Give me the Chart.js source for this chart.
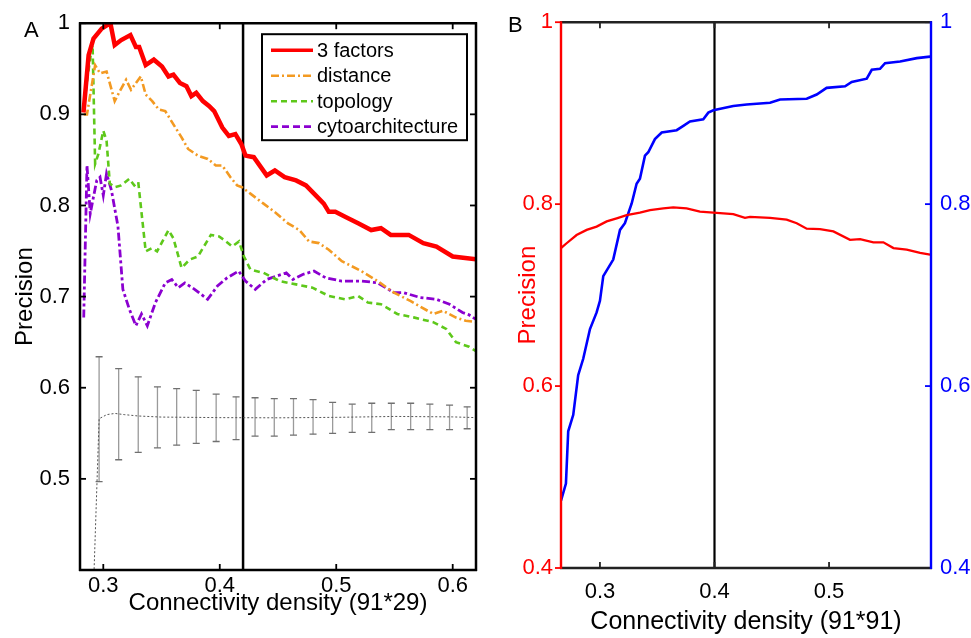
<!DOCTYPE html>
<html>
<head>
<meta charset="utf-8">
<title>Precision vs connectivity density</title>
<script src="https://cdn.jsdelivr.net/npm/chart.js@4.4.1/dist/chart.umd.min.js"></script>
<style>
  html, body { margin: 0; padding: 0; background: #fff; }
  #wrap { position: relative; width: 971px; height: 638px; overflow: hidden; }
  #chartA { position: absolute; left: 0; top: 0; }
  #chartB { position: absolute; left: 500px; top: 0; }
  .panel-tag {
    position: absolute;
    font-family: 'Liberation Sans', Arial, Helvetica, sans-serif;
    font-size: 22px;
    line-height: 1;
    color: #000;
  }
</style>
</head>
<body>
<div id="wrap">
  <canvas id="chartA" width="500" height="638"></canvas>
  <canvas id="chartB" width="471" height="638"></canvas>
  <div class="panel-tag" style="left:24px; top:19px;">A</div>
  <div class="panel-tag" style="left:508px; top:14px;">B</div>
</div>

<script>
const FONT = "'Liberation Sans', Arial, Helvetica, sans-serif";

// ---- Panel A: precision vs connectivity density (91*29) ----
const factorsX = [0.283, 0.2874, 0.2916, 0.2986, 0.3061, 0.3098, 0.3154, 0.3233, 0.328, 0.3308, 0.3364, 0.3434,
  0.3504, 0.356, 0.3602, 0.3658, 0.3714, 0.3756, 0.3798, 0.3855, 0.391, 0.3952, 0.4022, 0.4078, 0.4134, 0.4185,
  0.4221, 0.4292, 0.4403, 0.4473, 0.4557, 0.4655, 0.474, 0.4824, 0.4893, 0.4936, 0.4992, 0.5076, 0.5188, 0.53,
  0.5384, 0.5468, 0.5622, 0.5748, 0.586, 0.6, 0.62];
const factorsY = [0.902, 0.965, 0.983, 0.994, 1.0, 0.976, 0.9815, 0.987, 0.974, 0.974, 0.954, 0.96,
  0.9525, 0.9416, 0.9435, 0.9344, 0.9308, 0.92, 0.9236, 0.9145, 0.909, 0.9036, 0.8855, 0.8764, 0.8783, 0.8674,
  0.8547, 0.853, 0.833, 0.8384, 0.831, 0.8275, 0.822, 0.811, 0.802, 0.793, 0.793, 0.7877, 0.7804, 0.773,
  0.775, 0.7677, 0.7677, 0.7587, 0.755, 0.744, 0.741];

const distanceX = [0.2832, 0.286, 0.293, 0.2972, 0.3028, 0.3098, 0.314, 0.3196, 0.3238, 0.3322, 0.3364, 0.342,
  0.3476, 0.3532, 0.3602, 0.3672, 0.3728, 0.3812, 0.3897, 0.3966, 0.4022, 0.4092, 0.4149, 0.419, 0.4263, 0.4376,
  0.4487, 0.4586, 0.4683, 0.4767, 0.4851, 0.4936, 0.5048, 0.5216, 0.5355, 0.5496, 0.5636, 0.5832, 0.5916, 0.6028,
  0.6112, 0.62];
const distanceY = [0.9, 0.9, 0.954, 0.945, 0.947, 0.9145, 0.925, 0.938, 0.927, 0.9416, 0.9217, 0.9145,
  0.9054, 0.9036, 0.889, 0.8747, 0.862, 0.8547, 0.8511, 0.8438, 0.8438, 0.831, 0.822, 0.82, 0.813, 0.802,
  0.7913, 0.7804, 0.773, 0.7605, 0.7587, 0.7515, 0.7388, 0.728, 0.717, 0.7043, 0.6953, 0.681, 0.6845, 0.677,
  0.6735, 0.672];

const topologyX = [0.2832, 0.286, 0.2897, 0.2908, 0.293, 0.2958, 0.3, 0.3028, 0.3056, 0.3098, 0.3154, 0.3224,
  0.3266, 0.33, 0.3364, 0.342, 0.3462, 0.356, 0.3602, 0.3672, 0.3742, 0.3812, 0.3924, 0.3994, 0.4036, 0.4106,
  0.4165, 0.4208, 0.4263, 0.4376, 0.4515, 0.4655, 0.4796, 0.4936, 0.5076, 0.5188, 0.5272, 0.5384, 0.5524, 0.5664,
  0.5832, 0.5944, 0.6028, 0.614, 0.62];
const topologyY = [0.9036, 0.936, 0.97, 0.976, 0.8457, 0.8565, 0.882, 0.871, 0.824, 0.82, 0.822, 0.8293,
  0.822, 0.8257, 0.7497, 0.7533, 0.7497, 0.773, 0.764, 0.7315, 0.7406, 0.744, 0.7677, 0.766, 0.7623, 0.755,
  0.7605, 0.744, 0.7297, 0.726, 0.717, 0.7134, 0.7098, 0.7007, 0.697, 0.7007, 0.6935, 0.6916, 0.681, 0.6772,
  0.672, 0.6645, 0.65, 0.645, 0.64];

const cytoX = [0.2832, 0.286, 0.2888, 0.2916, 0.2944, 0.2972, 0.3, 0.3028, 0.307, 0.3126, 0.3168, 0.3224,
  0.328, 0.3328, 0.3378, 0.3448, 0.3532, 0.3588, 0.3644, 0.37, 0.3784, 0.3896, 0.398, 0.4064, 0.4162, 0.4221,
  0.4305, 0.4403, 0.4487, 0.4571, 0.4628, 0.4712, 0.4809, 0.4908, 0.5048, 0.5216, 0.5355, 0.5496, 0.558, 0.572,
  0.586, 0.5972, 0.6084, 0.614, 0.62];
const cytoY = [0.677, 0.844, 0.791, 0.8095, 0.8275, 0.831, 0.811, 0.835, 0.8166, 0.777, 0.708, 0.686,
  0.668, 0.681, 0.668, 0.6935, 0.715, 0.7188, 0.7098, 0.715, 0.708, 0.697, 0.7116, 0.7207, 0.728, 0.717,
  0.708, 0.7188, 0.7225, 0.726, 0.7188, 0.7243, 0.728, 0.7207, 0.717, 0.717, 0.7152, 0.7043, 0.7043, 0.699,
  0.697, 0.6916, 0.6826, 0.68, 0.675];

// random-network baseline: mean (dotted) and error bars
const nullX = [0.2895, 0.2964, 0.303, 0.31, 0.318, 0.33, 0.35, 0.4, 0.45, 0.5, 0.55, 0.6, 0.62];
const nullMean = [0.30, 0.566, 0.5705, 0.5718, 0.5705, 0.569, 0.5678, 0.5672, 0.567, 0.5675, 0.5685, 0.568, 0.5672];
const errX = [0.2964, 0.3132, 0.33, 0.3465, 0.363, 0.3798, 0.3969, 0.414, 0.4303, 0.4468,
  0.4633, 0.4801, 0.4969, 0.5137, 0.5305, 0.5473, 0.5639, 0.5804, 0.5973, 0.6124];
const errHigh = [0.634, 0.621, 0.612, 0.601, 0.599, 0.597, 0.593, 0.590, 0.589, 0.588,
  0.588, 0.587, 0.584, 0.582, 0.583, 0.583, 0.583, 0.582, 0.581, 0.579];
const errLow = [0.497, 0.521, 0.529, 0.534, 0.537, 0.539, 0.541, 0.543, 0.547, 0.547,
  0.548, 0.549, 0.550, 0.551, 0.551, 0.554, 0.554, 0.554, 0.554, 0.555];

const cutA = 0.42;
const xTicksA = [0.3, 0.4, 0.5, 0.6];
const yTicksA = [0.5, 0.6, 0.7, 0.8, 0.9, 1];
const legendLabelsA = ['3 factors', 'distance', 'topology', 'cytoarchitecture'];

// ---- Panel B: connectivity density (91*91) ----
const redX = [0.266, 0.2709, 0.2796, 0.2884, 0.2971, 0.3059, 0.3146, 0.3233, 0.3349, 0.3437, 0.3553, 0.364,
  0.3757, 0.3873, 0.399, 0.4164, 0.4266, 0.431, 0.4485, 0.463, 0.4718, 0.4805, 0.4921, 0.5038, 0.5183, 0.5271,
  0.5387, 0.5474, 0.5562, 0.5678, 0.5795, 0.5882];
const redY = [0.7517, 0.757, 0.766, 0.7717, 0.7753, 0.781, 0.7844, 0.788, 0.7906, 0.7934, 0.7953, 0.7964,
  0.7953, 0.7917, 0.7906, 0.789, 0.785, 0.786, 0.785, 0.783, 0.779, 0.773, 0.7725, 0.770, 0.7608, 0.7615,
  0.758, 0.758, 0.7517, 0.75, 0.7463, 0.7444];

const blueX = [0.266, 0.2703, 0.2723, 0.2767, 0.281, 0.2854, 0.2913, 0.2971, 0.3, 0.3029, 0.3116, 0.3175,
  0.3218, 0.3277, 0.332, 0.3349, 0.3393, 0.3422, 0.348, 0.3539, 0.367, 0.3728, 0.3786, 0.3902, 0.3946, 0.399,
  0.4164, 0.4281, 0.4485, 0.4572, 0.4805, 0.4892, 0.4979, 0.514, 0.5198, 0.5329, 0.5373, 0.5445, 0.5489, 0.562,
  0.5766, 0.5882];
const blueY = [0.474, 0.4929, 0.5503, 0.5684, 0.612, 0.630, 0.6627, 0.681, 0.6937, 0.7209, 0.739, 0.7717,
  0.779, 0.8007, 0.8225, 0.828, 0.8533, 0.857, 0.8715, 0.8788, 0.8813, 0.886, 0.8908, 0.8933, 0.9006, 0.9031,
  0.9078, 0.9096, 0.9115, 0.915, 0.9158, 0.9205, 0.9278, 0.9296, 0.9343, 0.9379, 0.9477, 0.9488, 0.955, 0.9568,
  0.9605, 0.9622];

const cutB = 0.4;
const xTicksB = [0.3, 0.4, 0.5];
const yTicksB = [0.4, 0.6, 0.8, 1];

const pts = (xs, ys) => xs.map((x, i) => ({ x, y: ys[i] }));
const fmt = v => String(+Number(v).toFixed(1));
const setTicks = list => s => { s.ticks = list.map(v => ({ value: v })); };
const noGrid = { display: false, drawTicks: false };

// box frame + matlab-style tick marks
const framePlugin = {
  id: 'frame',
  afterDatasetsDraw(chart, args, opts) {
    const { ctx, chartArea: a, scales } = chart;
    const len = 6;
    ctx.save();
    ctx.lineCap = 'butt';
    const seg = (x1, y1, x2, y2) => { ctx.beginPath(); ctx.moveTo(x1, y1); ctx.lineTo(x2, y2); ctx.stroke(); };

    ctx.lineWidth = 1.8;
    ctx.strokeStyle = opts.xColor;
    scales.x.ticks.forEach(t => {
      const px = scales.x.getPixelForValue(t.value);
      seg(px, a.bottom, px, a.bottom - len);
      seg(px, a.top, px, a.top + len);
    });
    opts.sides.forEach(side => {
      const sc = scales[side.axis];
      ctx.strokeStyle = side.color;
      const x0 = side.pos === 'left' ? a.left : a.right;
      sc.ticks.forEach(t => {
        const py = sc.getPixelForValue(t.value);
        seg(x0, py, x0 + side.dir * len, py);
      });
    });

    ctx.lineWidth = opts.width;
    ctx.strokeStyle = opts.xColor;
    seg(a.left - 1, a.top, a.right + 1, a.top);
    seg(a.left - 1, a.bottom, a.right + 1, a.bottom);
    opts.sides.forEach(side => {
      const x0 = side.pos === 'left' ? a.left : a.right;
      ctx.strokeStyle = side.color;
      seg(x0, a.top - 1, x0, a.bottom + 1);
    });
    ctx.restore();
  }
};

const errorBarPlugin = {
  id: 'errorBars',
  beforeDatasetsDraw(chart) {
    const { ctx, scales: { x, y } } = chart;
    ctx.save();
    ctx.lineWidth = 1.3;
    errX.forEach((v, i) => {
      const px = x.getPixelForValue(v);
      const top = y.getPixelForValue(errHigh[i]);
      const bot = y.getPixelForValue(errLow[i]);
      ctx.strokeStyle = '#9a9a9a';
      ctx.beginPath(); ctx.moveTo(px, top); ctx.lineTo(px, bot); ctx.stroke();
      ctx.strokeStyle = '#707070';
      ctx.beginPath();
      ctx.moveTo(px - 3.5, top); ctx.lineTo(px + 3.5, top);
      ctx.moveTo(px - 3.5, bot); ctx.lineTo(px + 3.5, bot);
      ctx.stroke();
    });
    ctx.restore();
  }
};

const boxLegendPlugin = {
  id: 'boxLegend',
  afterDraw(chart) {
    const { ctx, chartArea: a } = chart;
    const left = a.right - 214, top = a.top + 11, w = 205, h = 106;
    ctx.save();
    ctx.fillStyle = '#fff';
    ctx.fillRect(left, top, w, h);
    ctx.lineWidth = 2;
    ctx.strokeStyle = '#000';
    ctx.strokeRect(left, top, w, h);
    ctx.font = '20px ' + FONT;
    ctx.textBaseline = 'middle';
    legendLabelsA.forEach((label, i) => {
      const ds = chart.data.datasets[i];
      const cy = top + 16 + i * 25.5;
      ctx.strokeStyle = ds.borderColor;
      ctx.lineWidth = Math.min(ds.borderWidth, 3.5);
      ctx.setLineDash(ds.legendDash || ds.borderDash || []);
      ctx.beginPath(); ctx.moveTo(left + 9, cy); ctx.lineTo(left + 51, cy); ctx.stroke();
      ctx.setLineDash([]);
      ctx.fillStyle = '#000';
      ctx.fillText(label, left + 55, cy + 1);
    });
    ctx.restore();
  }
};

const baseOpts = {
  responsive: false,
  animation: false,
  devicePixelRatio: 1,
  elements: { point: { radius: 0 }, line: { tension: 0 } },
  plugins: { legend: { display: false }, tooltip: { enabled: false } }
};

new Chart(document.getElementById('chartA'), {
  type: 'line',
  data: {
    datasets: [
      { label: legendLabelsA[0], data: pts(factorsX, factorsY), borderColor: '#ff0000', borderWidth: 4.5 },
      { label: legendLabelsA[1], data: pts(distanceX, distanceY), borderColor: '#f39a22', borderWidth: 2.6,
        borderDash: [8, 3, 2, 3] },
      { label: legendLabelsA[2], data: pts(topologyX, topologyY), borderColor: '#5ec81a', borderWidth: 2.6,
        borderDash: [6, 4], legendDash: [6, 4] },
      { label: legendLabelsA[3], data: pts(cytoX, cytoY), borderColor: '#8b00d0', borderWidth: 2.8,
        borderDash: [8, 3, 3, 3], legendDash: [7, 4] },
      { label: 'null', data: pts(nullX, nullMean), borderColor: '#555', borderWidth: 1, borderDash: [2, 2] },
      { label: 'cut', data: [{ x: cutA, y: 0.4 }, { x: cutA, y: 1 }], borderColor: '#000', borderWidth: 2.5 }
    ]
  },
  options: {
    ...baseOpts,
    layout: { padding: { top: 18, right: 24, left: 0, bottom: 0 } },
    plugins: {
      ...baseOpts.plugins,
      frame: { xColor: '#000', width: 2.5, sides: [
        { axis: 'y', pos: 'left', color: '#000', dir: 1 },
        { axis: 'y', pos: 'right', color: '#000', dir: -1 }
      ] }
    },
    scales: {
      x: {
        type: 'linear', min: 0.28, max: 0.62,
        afterBuildTicks: setTicks(xTicksA),
        afterFit: s => { s.height = 68; },
        grid: noGrid, border: { display: false },
        ticks: { color: '#000', font: { family: FONT, size: 22 }, padding: 3, autoSkip: false, maxRotation: 0, callback: fmt },
        title: { display: true, text: 'Connectivity density (91*29)', color: '#000',
          font: { family: FONT, size: 24 }, padding: { bottom: 20 } }
      },
      y: {
        type: 'linear', min: 0.4, max: 1,
        afterBuildTicks: setTicks(yTicksA),
        afterFit: s => { s.width = 80; },
        grid: noGrid, border: { display: false },
        ticks: { color: '#000', font: { family: FONT, size: 22 }, padding: 10, callback: fmt },
        title: { display: true, text: 'Precision', color: '#000',
          font: { family: FONT, size: 24 }, padding: { top: 11 } }
      }
    }
  },
  plugins: [errorBarPlugin, framePlugin, boxLegendPlugin]
});

new Chart(document.getElementById('chartB'), {
  type: 'line',
  data: {
    datasets: [
      { label: 'precision', data: pts(redX, redY), borderColor: '#ff0000', borderWidth: 2.3, yAxisID: 'y' },
      { label: 'blue', data: pts(blueX, blueY), borderColor: '#0000ff', borderWidth: 2.6, yAxisID: 'y1' },
      { label: 'cut', data: [{ x: cutB, y: 0.4 }, { x: cutB, y: 1 }], borderColor: '#000', borderWidth: 2.2, yAxisID: 'y' }
    ]
  },
  options: {
    ...baseOpts,
    layout: { padding: { top: 17, right: 0, left: 0, bottom: 0 } },
    plugins: {
      ...baseOpts.plugins,
      frame: { xColor: '#222', width: 2.4, sides: [
        { axis: 'y', pos: 'left', color: '#ff0000', dir: -1 },
        { axis: 'y1', pos: 'right', color: '#0000ff', dir: -1 }
      ] }
    },
    scales: {
      x: {
        type: 'linear', min: 0.266, max: 0.589,
        afterBuildTicks: setTicks(xTicksB),
        afterFit: s => { s.height = 70; },
        grid: noGrid, border: { display: false },
        ticks: { color: '#000', font: { family: FONT, size: 22 }, padding: 11, autoSkip: false, maxRotation: 0, callback: fmt },
        title: { display: true, text: 'Connectivity density (91*91)', color: '#000',
          font: { family: FONT, size: 25 }, padding: { bottom: 1 } }
      },
      y: {
        type: 'linear', position: 'left', min: 0.4, max: 1,
        afterBuildTicks: setTicks(yTicksB),
        afterFit: s => { s.width = 61; },
        grid: noGrid, border: { display: false },
        ticks: { color: '#ff0000', font: { family: FONT, size: 22 }, padding: 8, callback: fmt },
        title: { display: true, text: 'Precision', color: '#ff0000',
          font: { family: FONT, size: 24 }, padding: { top: 14 } }
      },
      y1: {
        type: 'linear', position: 'right', min: 0.4, max: 1,
        afterBuildTicks: setTicks(yTicksB),
        afterFit: s => { s.width = 40; },
        grid: noGrid, border: { display: false },
        ticks: { color: '#0000ff', font: { family: FONT, size: 22 }, padding: 9, callback: fmt }
      }
    }
  },
  plugins: [framePlugin]
});
</script>
</body>
</html>
